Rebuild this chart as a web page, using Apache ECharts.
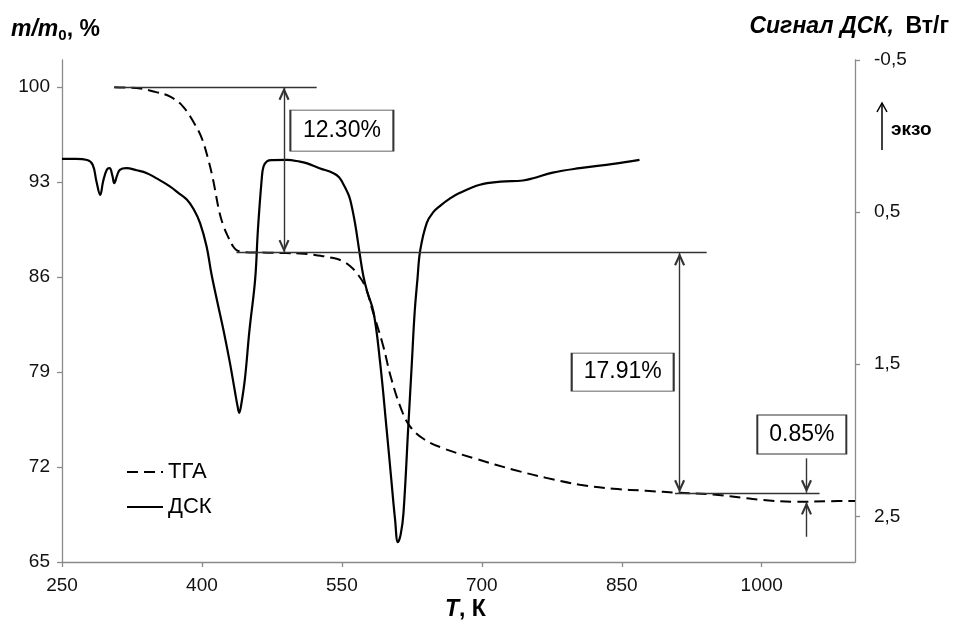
<!DOCTYPE html>
<html><head><meta charset="utf-8">
<script src="https://cdn.jsdelivr.net/npm/echarts@6/dist/echarts.min.js"></script>
<style>html,body{margin:0;padding:0;background:#fff}#c{width:953px;height:625px}</style>
</head><body><div id="c"></div>
<script>
// ---- data ----
const tgaT    = [306, 320, 334, 350, 366, 380, 392, 400, 407, 412, 419, 424, 428, 433, 437, 443, 451, 470, 490, 505, 520, 541, 550, 559, 567, 575, 583, 594, 603, 614, 623, 637, 658, 694, 734, 769, 805, 841, 876, 912, 948, 984, 1001, 1037, 1073, 1100];
const tgaMass = [100.0, 99.97, 99.9, 99.65, 99.3, 98.55, 97.3, 96.2, 94.6, 93.15, 90.7, 89.6, 88.97, 88.3, 87.99, 87.87, 87.82, 87.8, 87.77, 87.74, 87.64, 87.4, 87.2, 86.8, 86.2, 85.3, 83.5, 81.0, 78.5, 76.2, 75.0, 74.1, 73.4, 72.6, 71.8, 71.2, 70.7, 70.4, 70.25, 70.1, 69.98, 69.7, 69.57, 69.44, 69.48, 69.5];

const dscT      = [250, 265, 277, 283, 287, 291, 294, 298, 301, 304, 306, 309, 312, 319, 330, 341, 352, 366, 375, 384, 391, 398, 405, 410, 416, 423, 430, 435, 438, 440, 442, 446, 451, 457, 460, 464, 466, 470, 475, 491, 505, 512, 526, 541, 547, 551, 556, 559, 564, 569, 573, 577, 584, 591, 598, 603, 607, 610, 613, 616, 621, 625, 628, 631, 634, 641, 648, 655, 666, 676, 698, 720, 744, 755, 776, 805, 841, 869];
const dscSignal = [0.15, 0.15, 0.157, 0.19, 0.30, 0.386, 0.30, 0.222, 0.211, 0.26, 0.31, 0.26, 0.222, 0.211, 0.225, 0.244, 0.28, 0.332, 0.375, 0.419, 0.48, 0.572, 0.726, 0.90, 1.076, 1.273, 1.491, 1.666, 1.77, 1.82, 1.77, 1.60, 1.273, 0.944, 0.616, 0.288, 0.20, 0.165, 0.158, 0.157, 0.168, 0.178, 0.211, 0.244, 0.27, 0.31, 0.37, 0.42, 0.57, 0.77, 0.92, 1.02, 1.16, 1.49, 1.93, 2.26, 2.52, 2.67, 2.62, 2.48, 1.93, 1.49, 1.16, 0.94, 0.75, 0.57, 0.50, 0.46, 0.41, 0.375, 0.32, 0.30, 0.292, 0.277, 0.24, 0.211, 0.183, 0.157];

const xTicks    = [250, 400, 550, 700, 850, 1000];
const massTicks = [65, 72, 79, 86, 93, 100];
const dscTicks  = [-0.5, 0.5, 1.5, 2.5];

// horizontal reference lines (T from, T to, mass level)
const refFromT = [306, 437, 907];
const refToT   = [523, 941, 1062];
const refMass  = [100, 87.8, 70.1];
// double-headed arrows (T, mass from, mass to)
const arrowT    = [488, 912];
const arrowFrom = [100, 87.8];
const arrowTo   = [87.8, 70.1];
// small single arrows at the last step (T, tail mass, tip mass)
const smallArrowT    = [1048, 1048];
const smallArrowTail = [72.64, 66.86];
const smallArrowTip  = [70.1, 69.44];
// loss labels
const lossText  = ['12.30%', '17.91%', '0.85%'];
const lossT     = [550, 851, 1043];
const lossMass  = [96.8, 79.0, 74.4];

// ---- chart ----
const FONT = 'Liberation Sans, Arial, sans-serif';
const arrowHead = 'path://M0.5,0 L0.51,0 L0.5,0.01 Z M5,12 L10,23 L8.2,23.8 L5,16.5 L1.8,23.8 L0,23 Z';
const axisGray = '#8a8a8a';

const markLines = [];
refFromT.forEach((t, i) => markLines.push([
  {coord: [t, refMass[i]], symbol: 'none'},
  {coord: [refToT[i], refMass[i]], symbol: 'none'}
]));
arrowT.forEach((t, i) => markLines.push([
  {coord: [t, arrowFrom[i]], symbol: arrowHead, symbolSize: [11, 26]},
  {coord: [t, arrowTo[i]], symbol: arrowHead, symbolSize: [11, 26]}
]));
smallArrowT.forEach((t, i) => markLines.push([
  {coord: [t, smallArrowTail[i]], symbol: 'none'},
  {coord: [t, smallArrowTip[i]], symbol: arrowHead, symbolSize: [11, 26]}
]));

const boxSizes = [[103, 41], [102, 38], [89, 39]];
const markPoints = lossText.map((s, i) => ({
  name: s, coord: [lossT[i], lossMass[i]], symbolSize: boxSizes[i]
}));

const axisCommon = {
  axisLine: {show: true, onZero: false, lineStyle: {color: axisGray, width: 1.3}},
  splitLine: {show: false}
};

const boldItalic = {fontSize: 23, fontWeight: 'bold', fontStyle: 'italic', fontFamily: FONT, fill: '#000', lineHeight: 28};
const bold = {fontSize: 23, fontWeight: 'bold', fontFamily: FONT, fill: '#000', lineHeight: 28};

const chart = echarts.init(document.getElementById('c'), null, {renderer: 'canvas'});
chart.setOption({
  animation: false,
  backgroundColor: '#fff',
  textStyle: {fontFamily: FONT},
  grid: {left: 62, right: 98, top: 60, bottom: 63, containLabel: false},
  legend: {
    data: ['ТГА', 'ДСК'], orient: 'vertical', left: 121, top: 456,
    itemWidth: 36, itemHeight: 14, itemGap: 13,
    itemStyle: {opacity: 0},
    textStyle: {fontSize: 22, color: '#000', fontFamily: FONT}
  },
  xAxis: Object.assign({
    type: 'value', min: 250, max: 1100,
    axisTick: {show: true, length: 5, customValues: xTicks, lineStyle: {color: axisGray, width: 1.3}},
    axisLabel: {customValues: xTicks, margin: 14, fontSize: 19, color: '#111', fontFamily: FONT,
      formatter: v => String(v)}
  }, axisCommon),
  yAxis: [Object.assign({
    type: 'value', min: 65, max: 102, position: 'left',
    axisTick: {show: true, length: 5, customValues: massTicks, lineStyle: {color: axisGray, width: 1.3}},
    axisLabel: {customValues: massTicks, margin: 12, fontSize: 19, color: '#111', fontFamily: FONT,
      formatter: v => String(v)}
  }, axisCommon), Object.assign({
    type: 'value', min: -0.5, max: 2.8, position: 'right', inverse: true,
    axisTick: {show: true, length: 5, customValues: dscTicks, lineStyle: {color: axisGray, width: 1.3}},
    axisLabel: {customValues: dscTicks, margin: 19, fontSize: 19, color: '#111', fontFamily: FONT,
      formatter: v => String(v).replace('.', ',')}
  }, axisCommon)],
  series: [{
    name: 'ТГА', type: 'line', yAxisIndex: 0, showSymbol: false, symbol: 'none',
    smooth: 0.4,
    data: tgaT.map((t, i) => [t, tgaMass[i]]),
    lineStyle: {color: '#000', width: 2, type: [11, 6]},
    itemStyle: {color: '#000'},
    markLine: {
      silent: true, animation: false,
      label: {show: false},
      lineStyle: {color: '#333', width: 1.4, type: 'solid'},
      emphasis: {disabled: true},
      data: markLines
    },
    markPoint: {
      silent: true, animation: false, symbol: 'rect',
      itemStyle: {color: '#fff', borderColor: '#333', borderWidth: 1.3},
      label: {show: true, position: 'inside', formatter: '{b}', fontSize: 23, color: '#000', fontFamily: FONT},
      emphasis: {disabled: true},
      data: markPoints
    }
  }, {
    name: 'ДСК', type: 'line', yAxisIndex: 1, showSymbol: false, symbol: 'none',
    smooth: 0.4,
    data: dscT.map((t, i) => [t, dscSignal[i]]),
    lineStyle: {color: '#000', width: 2.2, type: 'solid'},
    itemStyle: {color: '#000'}
  }],
  graphic: [
    {type: 'text', left: 11, top: 18, style: {
      text: '{i|m/m}{s|0}{b|, %}', fontFamily: FONT,
      rich: {i: boldItalic, b: bold,
             s: {fontSize: 15, fontWeight: 'bold', fontFamily: FONT, fill: '#000', lineHeight: 15, verticalAlign: 'bottom'}}
    }},
    {type: 'text', right: 4, top: 15, style: {
      text: '{i|Сигнал ДСК,}  {b|Вт/г}', fontFamily: FONT,
      rich: {i: boldItalic, b: Object.assign({}, bold, {padding: [0, 0, 0, 5]})}
    }},
    {type: 'text', left: 445, top: 598, style: {
      text: '{i|T}{b|, К}', fontFamily: FONT,
      rich: {i: boldItalic, b: bold}
    }},
    {type: 'text', left: 891, top: 120, style: {
      text: 'экзо', fontSize: 19, fontWeight: 'bold', fontFamily: FONT, fill: '#000'
    }},
    {type: 'line', shape: {x1: 882, y1: 150, x2: 882, y2: 104}, style: {stroke: '#000', lineWidth: 1.5}},
    {type: 'polyline', shape: {points: [[877, 112], [882, 103], [887, 112]]}, style: {stroke: '#000', lineWidth: 1.5, fill: null}}
  ]
});
</script>
</body></html>
